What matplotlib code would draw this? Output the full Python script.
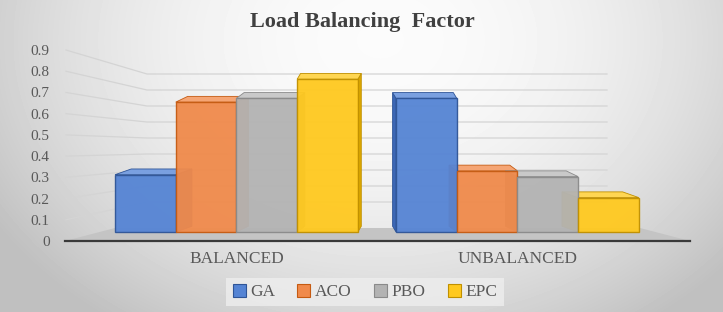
import numpy as np
import matplotlib.pyplot as plt
from matplotlib.patches import Polygon, Rectangle

# values
categories = ["BALANCED", "UNBALANCED"]
series = ["GA", "ACO", "PBO", "EPC"]
ga = [0.30, 0.70]
aco = [0.68, 0.32]
pbo = [0.70, 0.29]
epc = [0.80, 0.18]
yticks = [0, 0.1, 0.2, 0.3, 0.4, 0.5, 0.6, 0.7, 0.8, 0.9]
ytick_labels = ["0", "0.1", "0.2", "0.3", "0.4", "0.5", "0.6", "0.7", "0.8", "0.9"]

values = [ga, aco, pbo, epc]
face = ["#5584d4", "#f08a4b", "#b3b3b3", "#ffc91f"]
top_c = ["#7aa0e0", "#f5a574", "#c9c9c9", "#ffd652"]
side_c = ["#3c67b5", "#d86f2c", "#939393", "#dca800"]
edge = ["#2f5597", "#c55a11", "#8a8a8a", "#c09000"]
serif = "Liberation Serif"

W, H = 723, 312
fig = plt.figure(figsize=(W / 100, H / 100), dpi=100)

# background gradient + floor + back wall grid in pixel space
bg = fig.add_axes([0, 0, 1, 1])
bg.set_xlim(0, W)
bg.set_ylim(H, 0)
bg.axis("off")
yy, xx = np.mgrid[0:H, 0:W]
r2 = ((xx - 380) / 430.0) ** 2 + ((yy - 40) / 330.0) ** 2
shade = np.clip(0.985 - 0.21 * r2, 0.75, 1.0)
bg.imshow(shade, cmap="gray", vmin=0, vmax=1, extent=(0, W, H, 0), aspect="auto", zorder=0)

bg.add_patch(Polygon([(65, 241), (690, 241), (640, 228), (115, 228)],
                     closed=True, facecolor="#c4c4c4", edgecolor="none", zorder=1))


def y_front(v):
    return 241 - v * 212.2


def y_back(v):
    return 218 - v * 160


for v in yticks[1:]:
    bg.plot([66, 147, 607], [y_front(v), y_back(v), y_back(v)],
            color="#d4d4d4", lw=0.9, zorder=1)

# axis with the tick labels and front baseline
left, right, bot, topp = 65, 690, 241, 50
rect = [left / W, (H - bot) / H, (right - left) / W, (bot - topp) / H]
xlim = (-0.61, 1.614)

ax_lab = fig.add_axes(rect)
ax_lab.set_facecolor("none")
ax_lab.set_xlim(*xlim)
ax_lab.set_ylim(0, 0.9)
ax_lab.set_yticks(yticks)
ax_lab.set_yticklabels(ytick_labels)
ax_lab.set_xticks([0, 1])
ax_lab.set_xticklabels(categories)
for lab in ax_lab.get_yticklabels() + ax_lab.get_xticklabels():
    lab.set_fontfamily(serif)
    lab.set_color("#595959")
for lab in ax_lab.get_yticklabels():
    lab.set_fontsize(11)
for lab in ax_lab.get_xticklabels():
    lab.set_fontsize(12.5)
ax_lab.tick_params(axis="y", length=0, pad=11)
ax_lab.tick_params(axis="x", length=0, pad=7)
for s in ["top", "right", "left"]:
    ax_lab.spines[s].set_visible(False)
ax_lab.spines["bottom"].set_color("#3a3a3a")
ax_lab.spines["bottom"].set_linewidth(1.6)

# bars
ax = fig.add_axes(rect)
ax.set_facecolor("none")
ax.set_xlim(*xlim)
ax.set_ylim(-9 / 191, 182 / 191)
ax.axis("off")

width = 0.216
x = np.arange(len(categories))
dy = 0.03
for i, vals in enumerate(values):
    xs = x + (i - 1.5) * width
    for xc, v in zip(xs, vals):
        x0, x1 = xc - width / 2, xc + width / 2
        dx = 0.07 * (0.5 - xc)
        sx = x1 if dx > 0 else x0
        ax.add_patch(Polygon([(sx, 0), (sx, v), (sx + dx, v + dy), (sx + dx, dy)],
                             closed=True, facecolor=side_c[i], edgecolor=edge[i],
                             lw=0.6, zorder=2))
        ax.add_patch(Polygon([(x0, v), (x1, v), (x1 + dx, v + dy), (x0 + dx, v + dy)],
                             closed=True, facecolor=top_c[i], edgecolor=edge[i],
                             lw=0.6, zorder=2))
    ax.bar(xs, vals, width, color=face[i], edgecolor=edge[i], linewidth=1.0,
           alpha=0.95, zorder=3, label=series[i])

handles = [Rectangle((0, 0), 1, 1, facecolor=face[i], edgecolor=edge[i], lw=0.8)
           for i in range(len(series))]
leg = fig.legend(handles, series, loc="center", bbox_to_anchor=(365 / W, (H - 292) / H),
                 ncol=4, frameon=True, fancybox=False, handlelength=0.75,
                 handleheight=0.75, handletextpad=0.25, columnspacing=1.3,
                 borderpad=0.35, prop={"family": serif, "size": 12.5})
leg.get_frame().set_facecolor("#eeeeee")
leg.get_frame().set_edgecolor("none")
leg.get_frame().set_alpha(0.8)
for t in leg.get_texts():
    t.set_color("#595959")

fig.text(362 / W, (H - 22) / H, "Load Balancing  Factor", ha="center", va="center",
         fontsize=16, fontweight="bold", color="#404040", family=serif)

fig.savefig("out.png", dpi=100)
